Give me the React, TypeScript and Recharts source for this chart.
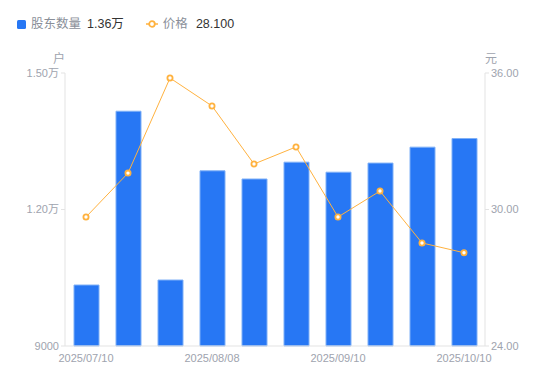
import {
  Bar,
  ComposedChart,
  Line,
  XAxis,
  YAxis,
} from "recharts";

// ─── Data ─────────────────────────────────────────────────────────────────────

const dates = [
  "2025/07/10",
  "2025/07/18",
  "2025/07/31",
  "2025/08/08",
  "2025/08/20",
  "2025/08/29",
  "2025/09/10",
  "2025/09/19",
  "2025/09/30",
  "2025/10/10",
];

const holders = [10340, 14160, 10450, 12850, 12670, 13040, 12820, 13020, 13370, 13560];

const prices = [29.67, 31.6, 35.78, 34.55, 32.0, 32.75, 29.67, 30.81, 28.53, 28.1];

const leftTicks = [9000, 12000, 15000];
const rightTicks = [24, 30, 36];

const data = dates.map((d, i) => ({ date: d, holders: holders[i], price: prices[i] }));

// ─── Styles ───────────────────────────────────────────────────────────────────

const FONT = '"Liberation Sans", "Noto Sans CJK SC", sans-serif';
const BLUE = "#2777f4";
const ORANGE = "#ffb23f";
const axisTick = { fill: "#9ea3ae", fontSize: 11, fontFamily: FONT } as const;
const axisLineStyle = { stroke: "#e3e3e3" } as const;

function fmtHolders(v: number): string {
  return v >= 10000 ? `${(v / 10000).toFixed(2)}万` : String(v);
}

function HollowDot(props: { cx?: number; cy?: number; index?: number }) {
  const { cx, cy, index } = props;
  if (typeof cx !== "number" || typeof cy !== "number") return null;
  return (
    <circle key={index} cx={cx} cy={cy} r={2.6} fill="#fff" stroke={ORANGE} strokeWidth={1.8} />
  );
}

// ─── Chart ────────────────────────────────────────────────────────────────────

export default function App() {
  const lastHolders = holders[holders.length - 1];
  const lastPrice = prices[prices.length - 1];

  return (
    <div
      style={{
        position: "absolute",
        left: 0,
        top: 0,
        width: 550,
        height: 381,
        background: "#fff",
        fontFamily: FONT,
      }}
    >
      <div
        style={{
          position: "absolute",
          left: 17,
          top: 16,
          display: "flex",
          alignItems: "center",
          fontSize: 12.5,
          lineHeight: "16px",
          whiteSpace: "nowrap",
        }}
      >
        <span
          style={{ width: 9, height: 9, background: BLUE, borderRadius: 1.5, marginRight: 5 }}
        />
        <span style={{ color: "#8a8f99" }}>股东数量</span>
        <span style={{ color: "#333", marginLeft: 6 }}>{fmtHolders(lastHolders)}</span>
        <svg width={12} height={10} style={{ marginLeft: 22, marginRight: 5 }}>
          <line x1={0} y1={5} x2={12} y2={5} stroke={ORANGE} strokeWidth={1.5} />
          <circle cx={6} cy={5} r={2.8} fill="#fff" stroke={ORANGE} strokeWidth={1.8} />
        </svg>
        <span style={{ color: "#8a8f99" }}>价格</span>
        <span style={{ color: "#333", marginLeft: 8 }}>{lastPrice.toFixed(3)}</span>
      </div>
      <span style={{ position: "absolute", left: 53, top: 49, fontSize: 12, color: "#9ea3ae" }}>
        户
      </span>
      <span style={{ position: "absolute", left: 485, top: 49, fontSize: 12, color: "#9ea3ae" }}>
        元
      </span>
      <ComposedChart
        width={550}
        height={381}
        data={data}
        margin={{ top: 73, right: 0, left: 0, bottom: 5 }}
      >
        <XAxis
          dataKey="date"
          interval={2}
          tick={axisTick}
          tickLine={false}
          axisLine={axisLineStyle}
          height={30}
        />
        <YAxis
          yAxisId="left"
          width={65}
          domain={[9000, 15000]}
          ticks={leftTicks}
          tickFormatter={fmtHolders}
          tick={axisTick}
          tickSize={4}
          tickLine={axisLineStyle}
          axisLine={axisLineStyle}
        />
        <YAxis
          yAxisId="right"
          orientation="right"
          width={65}
          domain={[24, 36]}
          ticks={rightTicks}
          tickFormatter={(v: number) => v.toFixed(2)}
          tick={axisTick}
          tickSize={4}
          tickLine={axisLineStyle}
          axisLine={axisLineStyle}
        />
        <Bar
          yAxisId="left"
          dataKey="holders"
          fill={BLUE}
          stroke="#7fb0f7"
          strokeWidth={1}
          barSize={25}
          isAnimationActive={false}
        />
        <Line
          yAxisId="right"
          dataKey="price"
          type="linear"
          stroke={ORANGE}
          strokeWidth={1}
          dot={HollowDot}
          activeDot={false}
          isAnimationActive={false}
        />
      </ComposedChart>
    </div>
  );
}
